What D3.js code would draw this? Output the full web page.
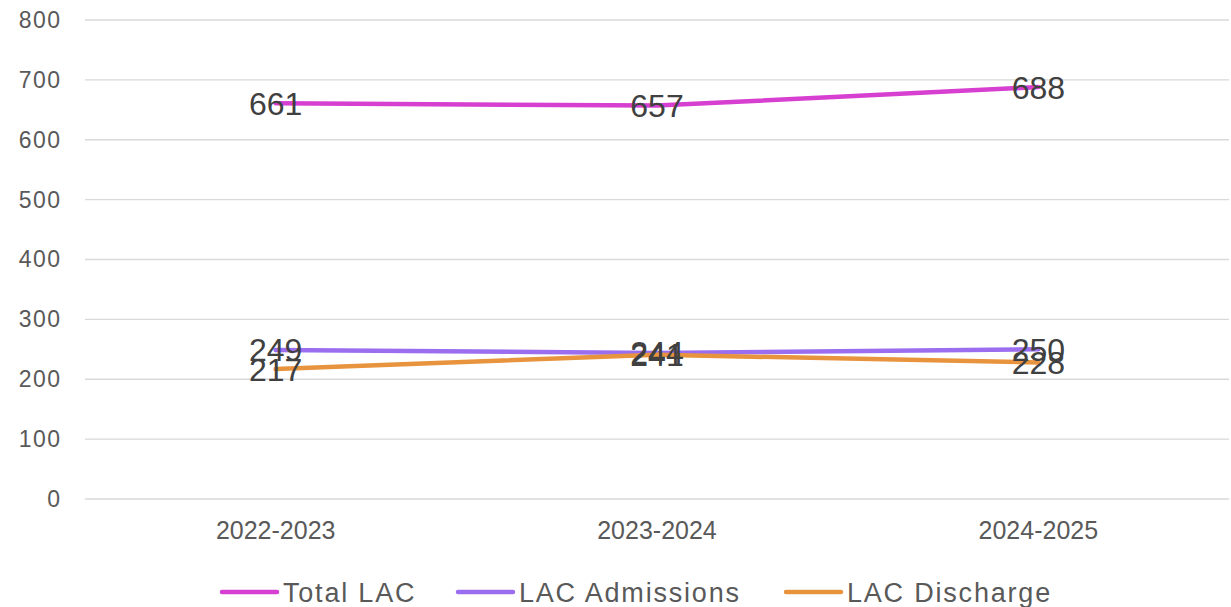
<!DOCTYPE html>
<html>
<head>
<meta charset="utf-8">
<script src="https://cdn.jsdelivr.net/npm/d3@7"></script>
<style>
  body { margin: 0; background: #fff; }
  svg { display: block; }
</style>
</head>
<body>
<script>
// chart data
var years = ['2022-2023', '2023-2024', '2024-2025']
var totalLAC = [661, 657, 688]
var admissions = [249, 244, 250]
var discharge = [217, 241, 228]
var yTicks = [0, 100, 200, 300, 400, 500, 600, 700, 800]

var seriesNames = ['Total LAC', 'LAC Admissions', 'LAC Discharge']
var seriesColors = ['#d63fd0', '#9b6ef0', '#e8943e']

var series = [totalLAC, admissions, discharge].map(function(vals, i) {
  return {name: seriesNames[i], color: seriesColors[i], values: vals}
})

var W = 1231, H = 607
var plot = {left: 85, right: 1229, top: 20, bottom: 499}

var svg = d3.select('body').append('svg')
    .attr('width', W).attr('height', H)

var x = d3.scaleBand().domain(years).range([plot.left, plot.right])
var y = d3.scaleLinear().domain([0, 800]).range([plot.bottom, plot.top])

// gridlines
svg.append('g').selectAll('line')
  .data(yTicks)
  .enter().append('line')
    .attr('x1', plot.left).attr('x2', plot.right)
    .attr('y1', function(d) { return y(d) }).attr('y2', function(d) { return y(d) })
    .attr('stroke', '#d9d9d9').attr('stroke-width', 1.3)

// y axis labels
var yAxis = d3.axisLeft(y).tickValues(yTicks).tickSize(0).tickPadding(0)
var yg = svg.append('g').attr('transform', 'translate(61.5,0)').call(yAxis)
yg.select('.domain').remove()
yg.selectAll('text')
    .attr('fill', '#595959')
    .style('font-family', '"Liberation Sans", Arial, sans-serif')
    .style('font-size', '23px')
    .style('letter-spacing', '1.5px')

// x axis labels
var xAxis = d3.axisBottom(x).tickSize(0).tickPadding(0)
var xg = svg.append('g').attr('transform', 'translate(0,' + (plot.bottom + 22) + ')').call(xAxis)
xg.select('.domain').remove()
xg.selectAll('text')
    .attr('fill', '#595959')
    .style('font-family', '"Liberation Sans", Arial, sans-serif')
    .style('font-size', '25px')

var cx = function(d, i) { return x(years[i]) + x.bandwidth() / 2 }
var line = d3.line().x(cx).y(function(d) { return y(d) })

svg.append('g').selectAll('path')
  .data(series)
  .enter().append('path')
    .attr('d', function(s) { return line(s.values) })
    .attr('fill', 'none')
    .attr('stroke', function(s) { return s.color })
    .attr('stroke-width', 4.5)
    .attr('stroke-linecap', 'round')
    .attr('stroke-linejoin', 'round')

// data labels, centred on points
series.forEach(function(s) {
  svg.append('g').selectAll('text')
    .data(s.values)
    .enter().append('text')
      .attr('x', cx)
      .attr('y', function(d) { return y(d) })
      .attr('dy', '0.36em')
      .attr('text-anchor', 'middle')
      .attr('fill', '#404040')
      .style('font-family', '"Liberation Sans Narrow", "Liberation Sans", sans-serif')
      .style('font-size', '32px')
      .text(function(d) { return d })
})

// legend
var legendX = [222, 458, 786]
var lg = svg.append('g').selectAll('g')
  .data(series)
  .enter().append('g')
    .attr('transform', function(s, i) { return 'translate(' + legendX[i] + ',592)' })
lg.append('line')
    .attr('x1', 0).attr('x2', 55)
    .attr('stroke', function(s) { return s.color })
    .attr('stroke-width', 4.5)
    .attr('stroke-linecap', 'round')
lg.append('text')
    .attr('x', 61)
    .attr('dy', '0.36em')
    .attr('fill', '#595959')
    .style('font-family', '"Liberation Sans", sans-serif')
    .style('font-size', '27px')
    .style('letter-spacing', '1.8px')
    .text(function(s) { return s.name })
</script>
</body>
</html>
